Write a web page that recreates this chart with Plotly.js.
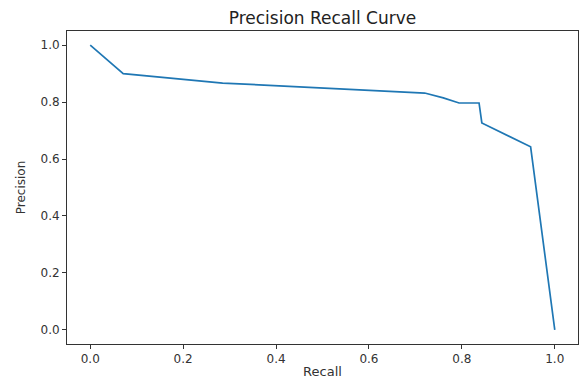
<!DOCTYPE html>
<html>
<head>
<meta charset="utf-8">
<script src="https://cdn.plot.ly/plotly-3.0.1.min.js"></script>
<style>html,body{margin:0;padding:0;background:#fff;}#chart{width:579px;height:380px;}</style>
</head>
<body>
<div id="chart"></div>
<script>
const recall = [0.0, 0.071, 0.285, 0.72, 0.76, 0.794, 0.837, 0.843, 0.948, 1.0];
const precision = [1.0, 0.9, 0.867, 0.832, 0.815, 0.797, 0.797, 0.727, 0.643, 0.0];
const tickVals = [0.0, 0.2, 0.4, 0.6, 0.8, 1.0];
const tickText = ["0.0", "0.2", "0.4", "0.6", "0.8", "1.0"];

const font = "DejaVu Sans, sans-serif";
const axisCommon = {
  showgrid: false, zeroline: false, showline: true, mirror: true,
  linecolor: "#333", linewidth: 1, ticks: "outside", ticklen: 4, tickwidth: 1,
  tickcolor: "#333", tickfont: {family: font, size: 12, color: "#333"},
  tickvals: tickVals, ticktext: tickText
};
Plotly.newPlot("chart", [{
  x: recall, y: precision, type: "scatter", mode: "lines",
  line: {color: "#1f77b4", width: 1.7}
}], {
  width: 579, height: 380,
  margin: {l: 67, r: 1, t: 31, b: 36},
  paper_bgcolor: "#fff", plot_bgcolor: "#fff",
  showlegend: false,
  title: {text: "Precision Recall Curve", font: {family: font, size: 17, color: "#222"}, x: 0.557, xanchor: "center", y: 0.952, yanchor: "middle"},
  xaxis: Object.assign({}, axisCommon, {range: [-0.05, 1.05],
    title: {text: "Recall", font: {family: font, size: 13, color: "#333"}, standoff: 1}}),
  yaxis: Object.assign({}, axisCommon, {range: [-0.05, 1.05],
    title: {text: "Precision", font: {family: font, size: 12, color: "#333"}, standoff: 12}})
}, {displayModeBar: false, staticPlot: true});
</script>
</body>
</html>
